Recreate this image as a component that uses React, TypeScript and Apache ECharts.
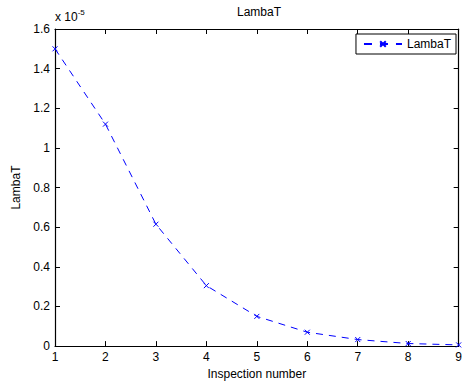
import React, { useEffect, useRef } from "react";
import * as echarts from "echarts";

const inspections = [1, 2, 3, 4, 5, 6, 7, 8, 9];
const lambdaT = [1.5, 1.12, 0.615, 0.305, 0.15, 0.07, 0.033, 0.013, 0.006]; // x 1e-5
const xTicks = { min: 1, max: 9, interval: 1 };
const yTicks = { min: 0, max: 1.6, interval: 0.2 };

const FONT = "'Liberation Sans', Arial, sans-serif";
const BLUE = "#0000ff";
const FS = 12;

export default function App() {
  const ref = useRef<HTMLDivElement>(null);
  useEffect(() => {
    if (!ref.current) return;
    const chart = echarts.init(ref.current, undefined, { renderer: "svg" });
    const data = inspections.map((x, i) => [x, lambdaT[i]]);
    const axisCommon = {
      axisLine: { show: true, onZero: false, lineStyle: { color: "#000", width: 1.2 } },
      axisTick: { show: true, inside: true, length: 5, lineStyle: { color: "#000" } },
      splitLine: { show: false },
    };
    chart.setOption({
      animation: false,
      backgroundColor: "#fff",
      textStyle: { fontFamily: FONT },
      title: {
        text: "LambaT",
        left: 259,
        top: 6,
        textAlign: "center",
        padding: 0,
        textStyle: { fontFamily: FONT, fontSize: FS, fontWeight: "normal", color: "#000" },
      },
      grid: { left: 55, right: 2, top: 29, bottom: 35, containLabel: false },
      legend: {
        right: 9,
        top: 34,
        orient: "horizontal",
        borderColor: "#000",
        borderWidth: 1,
        backgroundColor: "#fff",
        borderRadius: 0,
        padding: [4, 5, 4, 7],
        itemWidth: 38,
        itemHeight: 7,
        itemGap: 4,
        lineStyle: { type: [8, 8] },
        textStyle: { fontFamily: FONT, fontSize: FS, color: "#000" },
        data: ["LambaT"],
      },
      xAxis: [
        {
          type: "value",
          ...xTicks,
          position: "bottom",
          ...axisCommon,
          axisLabel: { show: true, color: "#000", fontFamily: FONT, fontSize: FS, margin: 5 },
          name: "Inspection number",
          nameLocation: "middle",
          nameGap: 20,
          nameTextStyle: { fontFamily: FONT, fontSize: FS, color: "#000" },
        },
        {
          type: "value",
          ...xTicks,
          position: "top",
          ...axisCommon,
          axisLabel: { show: false },
        },
      ],
      yAxis: [
        {
          type: "value",
          ...yTicks,
          position: "left",
          ...axisCommon,
          axisLabel: { show: true, color: "#000", fontFamily: FONT, fontSize: FS, margin: 5 },
          name: "LambaT",
          nameLocation: "middle",
          nameGap: 29,
          nameTextStyle: { fontFamily: FONT, fontSize: FS, color: "#000" },
        },
        {
          type: "value",
          ...yTicks,
          position: "right",
          ...axisCommon,
          axisLabel: { show: false },
        },
      ],
      graphic: [
        {
          type: "text",
          left: 55,
          top: 8,
          style: {
            text: "{a|x 10}{b|-5}",
            rich: {
              a: { fontFamily: FONT, fontSize: FS, fill: "#000", verticalAlign: "bottom" },
              b: { fontFamily: FONT, fontSize: 8, fill: "#000", verticalAlign: "top", padding: [0, 0, 7, 0] },
            },
          },
        },
      ],
      series: [
        {
          name: "LambaT",
          type: "line",
          xAxisIndex: 0,
          yAxisIndex: 0,
          data,
          symbol: "path://M0,0L10,10M10,0L0,10",
          symbolSize: 5,
          showSymbol: true,
          itemStyle: { color: BLUE, borderColor: BLUE, borderWidth: 1 },
          lineStyle: { color: BLUE, width: 1, type: [7, 6] },
          clip: false,
        },
      ],
    });
    return () => chart.dispose();
  }, []);
  return (
    <div
      ref={ref}
      style={{ position: "absolute", left: 0, top: 0, width: 465, height: 385 }}
    />
  );
}
